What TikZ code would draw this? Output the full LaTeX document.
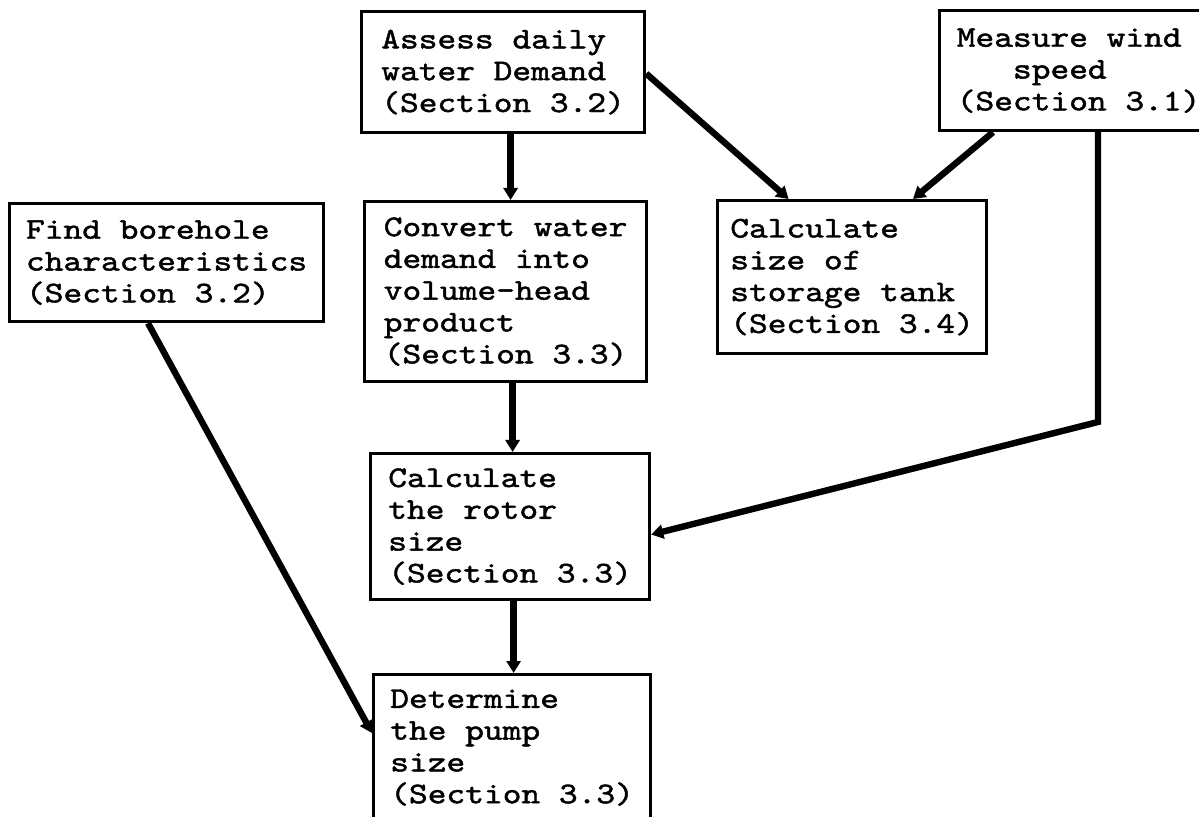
\documentclass[tikz,border=0pt]{standalone}
\usepackage{fontspec}
\newfontfamily\cour[FakeStretch=1.19,FakeBold=1.5]{lmmono10-regular.otf}
\usetikzlibrary{arrows.meta}
\begin{document}
\begin{tikzpicture}[x=0.5pt,y=-0.5pt,
  box/.style={draw, line width=1.6pt, anchor=north west, align=left, inner sep=0pt,
    font=\cour\fontsize{15}{15.9}\selectfont},
  arr/.style={line width=3.2pt, -{Triangle[length=6pt,width=7pt]}}]
\useasboundingbox (0,0) rectangle (1199,817);
\clip (0,0) rectangle (1199,817);
\node[box, minimum width=141.5pt, minimum height=60.5pt] (assess) at (360,10)
  {Assess daily\\water Demand\\(Section 3.2)};
\node[box, minimum width=139pt, minimum height=60pt] (measure) at (938,9)
  {Measure wind\\\phantom{spe}speed\\(Section 3.1)};
\node[box, minimum width=157pt, minimum height=59pt] (borehole) at (8,202)
  {Find borehole\\characteristics\\(Section 3.2)};
\node[box, minimum width=141pt, minimum height=90pt] (convert) at (363,200)
  {Convert water\\demand into\\volume-head\\product\\(Section 3.3)};
\node[box, minimum width=134.5pt, minimum height=76.5pt] (storage) at (716,199)
  {Calculate\\size of\\storage tank\\(Section 3.4)};
\node[box, minimum width=139.5pt, minimum height=73pt] (rotor) at (369,452)
  {Calculate\\the rotor\\size\\(Section 3.3)};
\node[box, minimum width=138.5pt, minimum height=73pt] (pump) at (372,673)
  {Determine\\the pump\\size\\(Section 3.3)};
\coordinate (bend) at (1098,422);
\draw[arr] ([xshift=3.75pt]assess.south) -- ([xshift=3.75pt]assess.south |- convert.north);
\draw[arr] ([yshift=-0.75pt]assess.east) -- ([xshift=-31.75pt]storage.north);
\draw[arr] ([xshift=27.5pt]measure.south west) -- ([xshift=98.5pt]storage.north west);
\draw[arr] ([xshift=80pt]measure.south west) -- (bend) -- ([yshift=-4pt]rotor.east);
\draw[arr] ([xshift=3.5pt]convert.south) -- ([xshift=3.5pt]convert.south |- rotor.north);
\draw[arr] ([xshift=1.75pt]rotor.south) -- ([xshift=1.75pt]rotor.south |- pump.north);
\draw[arr] ([xshift=70pt]borehole.south west) -- ([yshift=-30pt]pump.north west);
\end{tikzpicture}
\end{document}
